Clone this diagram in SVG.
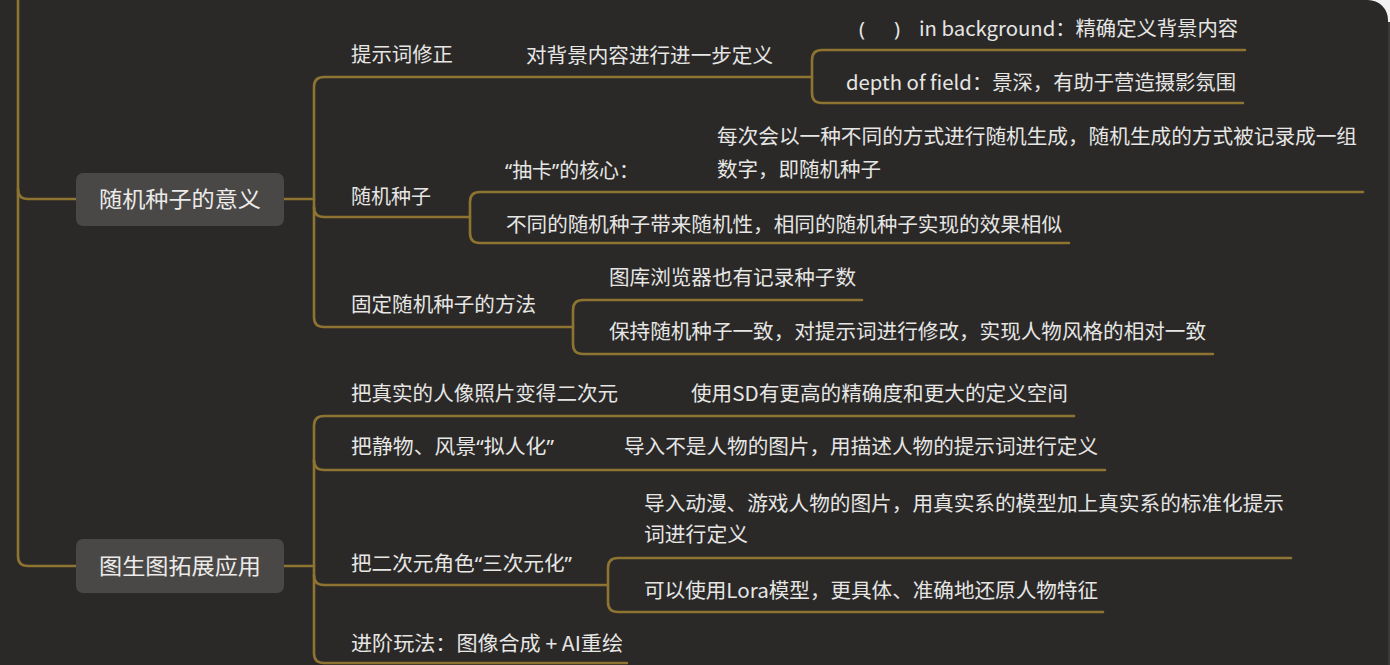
<svg xmlns="http://www.w3.org/2000/svg" width="1390" height="665" viewBox="0 0 1390 665">
<style>
.bg{fill:#2b2928}
.ln{fill:none;stroke:#8e7431;stroke-width:2.6;stroke-linecap:round}
.t{font-family:"Noto Sans CJK SC","Noto Sans",sans-serif;font-size:20px;fill:#e6e6e4}
.q{font-family:"Noto Sans","Liberation Sans",sans-serif}
.nt{font-family:"Noto Sans CJK SC","Noto Sans",sans-serif;font-size:22px;fill:#ecebea;text-anchor:middle}
.nb{fill:#4a4846}
</style>
<rect class="bg" x="0" y="0" width="1390" height="665"/>
<path d="M1368,0 A20,20 0 0 1 1388,20 V665 H1390 V0 Z" fill="#3a3938"/>
<path d="M1368,0 A20,20 0 0 1 1388,20 V0 Z M1388,0 H1390 V22 H1388 Z" fill="#f2f2f2"/>
<g id="connectors">
<path class="ln" d="M18,0 V556 Q18,566 28,566 H76"/>
<path class="ln" d="M18,189 Q18,199 28,199 H76"/>
<path class="ln" d="M284,199 H314"/>
<path class="ln" d="M812,77 H324 Q314,77 314,87 V317 Q314,327 324,327 H573"/>
<path class="ln" d="M314,207 Q314,217 324,217 H470"/>
<path class="ln" d="M1245,50 H822 Q812,50 812,60 V93 Q812,103 822,103 H1243"/>
<path class="ln" d="M1363,192 H480 Q470,192 470,202 V233 Q470,243 480,243 H1069"/>
<path class="ln" d="M862,300 H583 Q573,300 573,310 V344 Q573,354 583,354 H1213"/>
<path class="ln" d="M284,566 H314"/>
<path class="ln" d="M1074,416 H324 Q314,416 314,426 V653 Q314,663 324,663 H627"/>
<path class="ln" d="M314,460 Q314,470 324,470 H1105"/>
<path class="ln" d="M314,575 Q314,585 324,585 H608"/>
<path class="ln" d="M1291,558 H618 Q608,558 608,568 V602 Q608,612 618,612 H1103"/>
</g>
<g id="n-random-seed-meaning">
<rect class="nb" x="76" y="173" width="208" height="53" rx="7"/>
<text class="nt" x="180" y="207" textLength="162" lengthAdjust="spacingAndGlyphs">随机种子的意义</text>
</g>
<g id="n-img2img-apps">
<rect class="nb" x="76" y="539" width="208" height="54" rx="7"/>
<text class="nt" x="180" y="574" textLength="162" lengthAdjust="spacingAndGlyphs">图生图拓展应用</text>
</g>
<g id="n-prompt-fix"><text class="t" x="351" y="62" textLength="102" lengthAdjust="spacingAndGlyphs">提示词修正</text></g>
<g id="n-bg-define"><text class="t" x="526" y="63" textLength="247" lengthAdjust="spacingAndGlyphs">对背景内容进行进一步定义</text></g>
<g id="n-in-bg">
<text class="t" y="36"><tspan class="q" x="859">(</tspan><tspan class="q" x="894">)</tspan></text>
<text class="t" x="919" y="36" textLength="319" lengthAdjust="spacingAndGlyphs">in background：精确定义背景内容</text>
</g>
<g id="n-dof"><text class="t" x="846" y="90" textLength="390" lengthAdjust="spacingAndGlyphs">depth of field：景深，有助于营造摄影氛围</text></g>
<g id="n-seed"><text class="t" x="351" y="204" textLength="80" lengthAdjust="spacingAndGlyphs">随机种子</text></g>
<g id="n-core"><text class="t" x="505" y="178" textLength="134" lengthAdjust="spacingAndGlyphs"><tspan class="q">“</tspan>抽卡<tspan class="q">”</tspan>的核心：</text></g>
<g id="n-core-desc">
<text class="t" x="717" y="144" textLength="640" lengthAdjust="spacingAndGlyphs">每次会以一种不同的方式进行随机生成，随机生成的方式被记录成一组</text>
<text class="t" x="717" y="177" textLength="164" lengthAdjust="spacingAndGlyphs">数字，即随机种子</text>
</g>
<g id="n-diff-seed"><text class="t" x="506" y="232" textLength="556" lengthAdjust="spacingAndGlyphs">不同的随机种子带来随机性，相同的随机种子实现的效果相似</text></g>
<g id="n-fix-seed"><text class="t" x="351" y="312" textLength="185" lengthAdjust="spacingAndGlyphs">固定随机种子的方法</text></g>
<g id="n-gallery"><text class="t" x="609" y="285" textLength="247" lengthAdjust="spacingAndGlyphs">图库浏览器也有记录种子数</text></g>
<g id="n-keep-seed"><text class="t" x="609" y="339" textLength="597" lengthAdjust="spacingAndGlyphs">保持随机种子一致，对提示词进行修改，实现人物风格的相对一致</text></g>
<g id="n-real2anime"><text class="t" x="351" y="401" textLength="267" lengthAdjust="spacingAndGlyphs">把真实的人像照片变得二次元</text></g>
<g id="n-sd"><text class="t" x="691" y="401" textLength="377" lengthAdjust="spacingAndGlyphs">使用SD有更高的精确度和更大的定义空间</text></g>
<g id="n-personify"><text class="t" x="351" y="454" textLength="203" lengthAdjust="spacingAndGlyphs">把静物、风景<tspan class="q">“</tspan>拟人化<tspan class="q">”</tspan></text></g>
<g id="n-personify-desc"><text class="t" x="624" y="454" textLength="474" lengthAdjust="spacingAndGlyphs">导入不是人物的图片，用描述人物的提示词进行定义</text></g>
<g id="n-3d"><text class="t" x="351" y="571" textLength="221" lengthAdjust="spacingAndGlyphs">把二次元角色<tspan class="q">“</tspan>三次元化<tspan class="q">”</tspan></text></g>
<g id="n-3d-desc">
<text class="t" x="644" y="511" textLength="640" lengthAdjust="spacingAndGlyphs">导入动漫、游戏人物的图片，用真实系的模型加上真实系的标准化提示</text>
<text class="t" x="644" y="542" textLength="104" lengthAdjust="spacingAndGlyphs">词进行定义</text>
</g>
<g id="n-lora"><text class="t" x="644" y="598" textLength="454" lengthAdjust="spacingAndGlyphs">可以使用Lora模型，更具体、准确地还原人物特征</text></g>
<g id="n-advanced"><text class="t" x="351" y="651" textLength="272" lengthAdjust="spacingAndGlyphs">进阶玩法：图像合成 + AI重绘</text></g>
</svg>
